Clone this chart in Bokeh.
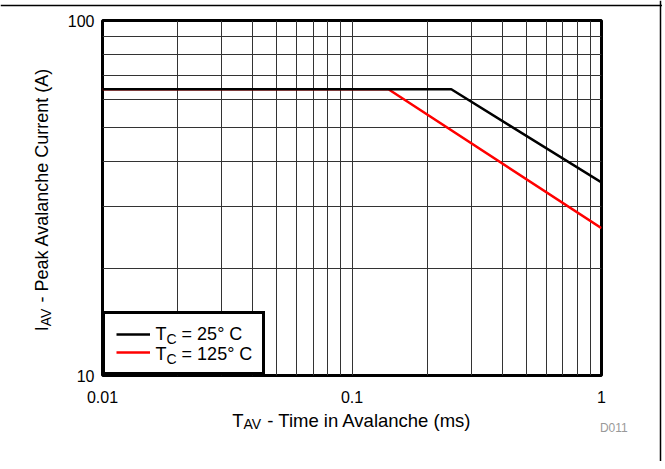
import math
from bokeh.plotting import figure
from bokeh.layouts import column
from bokeh.models import (Range1d, FixedTicker, CustomJSTickFormatter, Legend,
                          LegendItem, Label, Span, Plot)
from bokeh.core.properties import value
from bokeh.embed import file_html
from bokeh.resources import INLINE

# ---- data ----
t_25c = [0.01, 0.25, 1.0]
i_25c = [64.0, 64.0, 35.0]
t_125c = [0.01, 0.14, 1.0]
i_125c = [64.0, 64.0, 26.0]

x_major = [0.01, 0.1, 1.0]
x_minor = [0.02, 0.03, 0.04, 0.05, 0.06, 0.07, 0.08, 0.09,
           0.2, 0.3, 0.4, 0.5, 0.6, 0.7, 0.8, 0.9]
y_major = [10, 100]
y_minor = [20, 30, 40, 50, 60, 70, 80, 90]

FONT = "Liberation Sans"
W, H = 657, 461

# ---------------- main chart ----------------
p = figure(width=W, height=H, x_axis_type="log", y_axis_type="log",
           x_range=Range1d(0.01, 1.0), y_range=Range1d(10, 100),
           output_backend="svg", toolbar_location=None,
           min_border_left=102, min_border_right=W - 601,
           min_border_top=20, min_border_bottom=H - 375)

p.outline_line_color = "black"
p.outline_line_width = 3
p.outline_line_alpha = 1.0
p.background_fill_color = "white"
p.border_fill_color = "white"

p.xaxis.ticker = FixedTicker(ticks=x_major, minor_ticks=x_minor)
p.yaxis.ticker = FixedTicker(ticks=y_major, minor_ticks=y_minor)
fmt = CustomJSTickFormatter(code="return tick.toString();")
for ax in (p.xaxis, p.yaxis):
    ax.formatter = fmt
    ax.axis_line_color = None
    ax.major_tick_line_color = None
    ax.minor_tick_line_color = None
    ax.major_tick_out = 0
    ax.major_tick_in = 0
    ax.minor_tick_out = 0
    ax.minor_tick_in = 0
    ax.major_label_text_font = FONT
    ax.major_label_text_font_size = "16px"
    ax.major_label_text_color = "black"
p.xaxis.major_label_standoff = 15
p.yaxis.major_label_standoff = 8

for g in (p.xgrid, p.ygrid):
    g.grid_line_color = "#333333"
    g.grid_line_width = 1
    g.minor_grid_line_color = "#333333"
    g.minor_grid_line_width = 1

r_red = p.line(t_125c, i_125c, line_color="#ff0000", line_width=2.5)
r_blk = p.line(t_25c, i_25c, line_color="black", line_width=2.5)

legend = Legend(items=[LegendItem(label=" ", renderers=[r_blk]),
                       LegendItem(label=" ", renderers=[r_red])],
                location="bottom_left", margin=0, padding=11, spacing=0,
                glyph_width=34, glyph_height=18, label_width=92,
                label_height=18, label_standoff=9,
                border_line_color="black", border_line_width=3,
                border_line_alpha=1.0,
                background_fill_color="white", background_fill_alpha=1.0,
                label_text_font=FONT, label_text_font_size="10px")
p.add_layout(legend)

# ---------------- transparent text layer (pixel space) ----------------
q = figure(width=W + 5, height=H, x_range=Range1d(0, W + 5),
           y_range=Range1d(H, 0), output_backend="svg",
           toolbar_location=None, x_axis_location=None,
           y_axis_location=None, min_border=0, min_border_left=0,
           min_border_right=0, min_border_top=0, min_border_bottom=0)
q.outline_line_color = None
q.background_fill_alpha = 0
q.border_fill_alpha = 0
q.grid.visible = False
q.styles = {"margin-top": "-%dpx" % H}

HAS_FRAME_ALIGN = "frame_align" in Plot.properties()
if HAS_FRAME_ALIGN:
    p.frame_align = False
    q.frame_align = False


def make_label(**kw):
    try:
        return Label(text_font=value(FONT), **kw)
    except Exception:
        return Label(text_font=FONT, **kw)


def lab(text, x, y, size, angle=0, color="black", align="left",
        baseline="middle"):
    q.add_layout(make_label(text=text, x=x, y=y, angle=angle,
                            text_font_size=size, text_color=color,
                            text_align=align, text_baseline=baseline))


# x-axis title (y = vertical centre of the capitals)
x0, yc = 231.7, 419.7
lab("T", x0, yc, "18.5px")
lab("AV", x0 + 11.3, yc + 3.8, "14px")
lab("- Time in Avalanche (ms)", x0 + 30.0 + 5.1, yc, "18.5px")

# y-axis title (rotated; x = horizontal centre of the capitals)
xc, ay0 = 41.5, 330.7
lab("I", xc, ay0, "18px", angle=math.pi / 2)
lab("AV", xc + 4.0, ay0 - 5.0, "14px", angle=math.pi / 2)
lab("- Peak Avalanche Current (A)", xc, ay0 - 23.7 - 5.0, "18px",
    angle=math.pi / 2)

# legend texts
lx = 155.0
for yc_, rest in ((333.3, "= 25° C"), (353.3, "= 125° C")):
    lab("T", lx, yc_, "18px")
    lab("C", lx + 11.0, yc_ + 5.0, "14px")
    lab(rest, lx + 21.1 + 5.0, yc_, "18px")

# figure id
lab("D011", 613.3, 427.7, "12px", color="#999999", align="center")

# page frame lines (top and right)
q.add_layout(Span(location=5, dimension="width", line_color="black",
                  line_width=1.5))
q.add_layout(Span(location=660, dimension="height", line_color="black",
                  line_width=1.5))

if HAS_FRAME_ALIGN:
    root = column(p, q, spacing=0)
    open("out.html", "w").write(file_html(root, INLINE))
else:
    open("out.html", "w").write(file_html([p, q], INLINE))
